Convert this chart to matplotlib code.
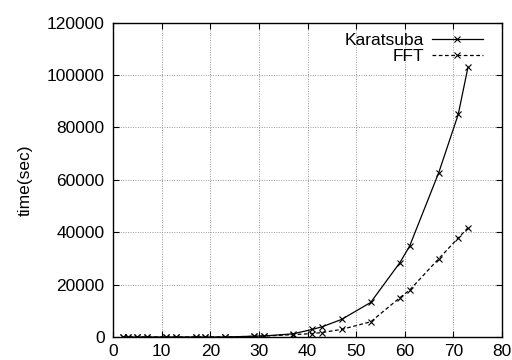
import matplotlib
matplotlib.use("Agg")
from matplotlib import pyplot as plt

# input sizes (primes) and measured times
n = [2, 3, 5, 7, 11, 13, 17, 19, 23, 29, 31, 37, 41, 43, 47, 53, 59, 61, 67, 71, 73]
karatsuba = [0, 0, 0, 0, 0, 0, 0, 0, 10, 300, 400, 1200, 2900, 3900, 6700, 13200, 28400, 34700, 62800, 85000, 103000]
fft = [0, 0, 0, 0, 0, 0, 0, 0, 10, 250, 350, 900, 1300, 1700, 2900, 5800, 15000, 17900, 29900, 37800, 41700]

plt.rcParams["font.family"] = ["Liberation Sans", "DejaVu Sans"]

fig = plt.figure(figsize=(5.12, 3.6), dpi=100)
ax = fig.add_axes([113 / 512, 1 - 337 / 360, (502 - 113) / 512, (337 - 22.7) / 360])

ax.plot(n, karatsuba, color="black", lw=0.9, marker="x", ms=4, mew=0.8, label="Karatsuba")
ax.plot(n, fft, color="black", lw=0.9, ls=(0, (3, 2)), marker="x", ms=4, mew=0.8, label="FFT")

ax.set_xlim(0, 80)
ax.set_ylim(0, 120000)
ax.set_xticks(range(0, 81, 10))
ax.set_yticks(range(0, 120001, 20000))
ax.grid(True, color="#999999", ls=(0, (1, 1.5)), lw=0.7)
ax.tick_params(direction="in", top=True, right=True, labelsize=12.5, length=4, pad=6)
ax.tick_params(axis="x", pad=5)
ax.set_ylabel("time(sec)", fontsize=12.5, labelpad=10)
for s in ax.spines.values():
    s.set_linewidth(1.0)

ax.legend(loc="upper right", bbox_to_anchor=(0.969, 0.989), frameon=False, markerfirst=False,
          fontsize=12.5, handlelength=2.94, labelspacing=0.05, borderaxespad=0, handletextpad=0.46)

fig.savefig("out.png", dpi=100)
